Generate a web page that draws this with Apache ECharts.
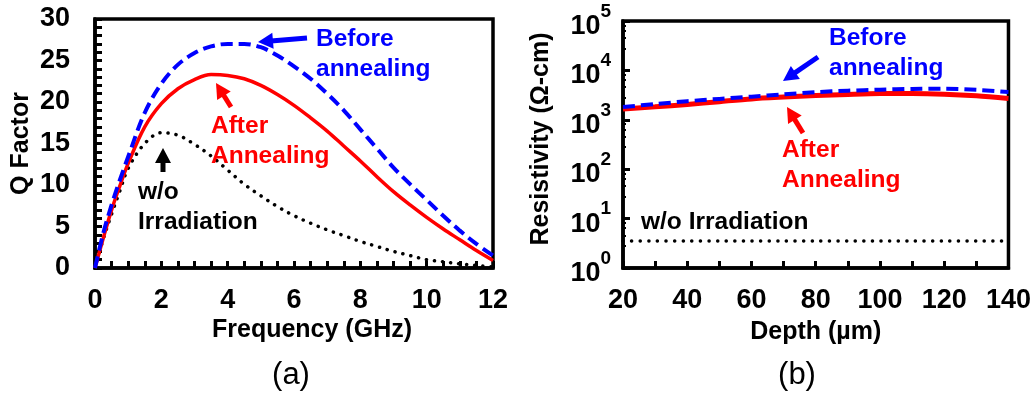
<!DOCTYPE html>
<html>
<head>
<meta charset="utf-8">
<script src="https://cdn.jsdelivr.net/npm/echarts@6/dist/echarts.min.js"></script>
<style>
  html, body { margin: 0; padding: 0; background: #fff; }
  #chart { width: 1034px; height: 393px; }
</style>
</head>
<body>
<div id="chart"></div>
<script>
// (a) Q factor vs frequency
const freq     = [0, 0.25, 0.5, 0.75, 1, 1.5, 2, 2.5, 3, 3.5, 4, 4.5, 5, 5.5, 6, 6.5, 7, 7.5, 8, 8.5, 9, 9.5, 10, 10.5, 11, 11.5, 12];
const qBefore  = [0, 4.2, 7.6, 10.6, 13.4, 18.7, 22.2, 24.5, 25.9, 26.7, 27.0, 27.0, 26.6, 25.6, 24.3, 22.8, 21.0, 19.0, 16.7, 14.4, 12.1, 10.1, 8.2, 6.3, 4.5, 2.9, 1.5];
const qAfter   = [0, 3.6, 7.0, 9.9, 12.6, 17.0, 19.8, 21.6, 22.7, 23.3, 23.2, 22.8, 22.0, 20.9, 19.6, 18.1, 16.5, 14.7, 12.9, 11.0, 9.2, 7.6, 6.1, 4.7, 3.4, 2.1, 0.9];
const qNoIrr   = [0, 3.5, 6.5, 9.3, 12.0, 15.0, 16.3, 16.0, 14.9, 13.5, 11.8, 10.1, 8.7, 7.4, 6.3, 5.4, 4.6, 3.9, 3.2, 2.6, 2.0, 1.5, 1.0, 0.75, 0.5, 0.3, 0.12];

// (b) Resistivity vs depth
const depth     = [20, 30, 40, 50, 60, 70, 80, 90, 100, 110, 120, 130, 140];
const rhoBefore = [1820, 2080, 2380, 2650, 2940, 3280, 3630, 3880, 4070, 4220, 4270, 4050, 3650];
const rhoAfter  = [1650, 1830, 2040, 2330, 2650, 2880, 3090, 3260, 3390, 3400, 3300, 3060, 2710];
const rhoNoIrr  = [3.5, 3.5, 3.5, 3.5, 3.5, 3.5, 3.5, 3.5, 3.5, 3.5, 3.5, 3.5, 3.5];

const FONT = 'Liberation Sans, Arial, Helvetica, sans-serif';
const BLUE = '#0000ff';
const RED = '#ff0000';
const BLACK = '#000000';

const pairs = (xs, ys) => xs.map((x, i) => [x, ys[i]]);

function arrow(x1, y1, x2, y2, color) {
  const dx = x2 - x1, dy = y2 - y1;
  const len = Math.hypot(dx, dy);
  const ux = dx / len, uy = dy / len;
  const headLen = 15, hw = 8;
  const bx = x2 - ux * headLen, by = y2 - uy * headLen;
  const nx = -uy, ny = ux;
  return [
    { type: 'line', silent: true, z: 50,
      shape: { x1: x1, y1: y1, x2: bx + ux * 2, y2: by + uy * 2 },
      style: { stroke: color, lineWidth: 5 } },
    { type: 'polygon', silent: true, z: 50,
      shape: { points: [[x2, y2], [bx + nx * hw, by + ny * hw], [bx - nx * hw, by - ny * hw]] },
      style: { fill: color } }
  ];
}

function note(x, y, text, color) {
  return { type: 'text', silent: true, z: 50, x: x, y: y,
    style: { text: text, fill: color, font: 'bold 24.5px ' + FONT,
      textAlign: 'left', textVerticalAlign: 'middle' } };
}

const tickStyle = { show: true, inside: true, length: 7, lineStyle: { color: BLACK, width: 3 } };
const minorStyle = { show: true, length: 7, lineStyle: { color: BLACK, width: 3 } };
const axisLineStyle = { show: true, lineStyle: { color: BLACK, width: 3.5 } };
const labelStyle = { color: BLACK, fontSize: 27, fontWeight: 'bold', fontFamily: FONT };
const nameStyle = { color: BLACK, fontSize: 25, fontWeight: 'bold', fontFamily: FONT };

const chart = echarts.init(document.getElementById('chart'), null, { renderer: 'canvas' });

chart.setOption({
  backgroundColor: '#ffffff',
  animation: false,
  grid: [
    { left: 95, top: 19, width: 398, height: 249, show: true, borderColor: BLACK, borderWidth: 3.5, backgroundColor: 'transparent' },
    { left: 623, top: 21, width: 387, height: 247, show: true, borderColor: BLACK, borderWidth: 3.5, backgroundColor: 'transparent' }
  ],
  xAxis: [
    { gridIndex: 0, type: 'value', min: 0, max: 12, interval: 2,
      name: 'Frequency (GHz)', nameLocation: 'middle', nameGap: 50, nameMoveOverlap: false,
      nameTextStyle: Object.assign({ padding: [0, 0, 0, 36] }, nameStyle),
      axisLine: axisLineStyle, axisTick: tickStyle, minorTick: Object.assign({ splitNumber: 4 }, minorStyle),
      axisLabel: Object.assign({ margin: 19, showMinLabel: true, showMaxLabel: true }, labelStyle),
      splitLine: { show: false } },
    { gridIndex: 1, type: 'value', min: 20, max: 140, interval: 20,
      name: 'Depth (µm)', nameLocation: 'middle', nameGap: 52, nameMoveOverlap: false,
      nameTextStyle: nameStyle,
      axisLine: axisLineStyle, axisTick: tickStyle, minorTick: Object.assign({ splitNumber: 2 }, minorStyle),
      axisLabel: Object.assign({ margin: 19, showMinLabel: true, showMaxLabel: true }, labelStyle),
      splitLine: { show: false } }
  ],
  yAxis: [
    { gridIndex: 0, type: 'value', min: 0, max: 30, interval: 5,
      name: 'Q Factor', nameLocation: 'middle', nameGap: 61, nameMoveOverlap: false,
      nameTextStyle: nameStyle,
      axisLine: axisLineStyle, axisTick: tickStyle,
      minorTick: Object.assign({ splitNumber: 5 }, minorStyle),
      axisLabel: Object.assign({ margin: 25, showMinLabel: true, showMaxLabel: true }, labelStyle),
      splitLine: { show: false } },
    { gridIndex: 1, type: 'log', logBase: 10, min: 1, max: 100000,
      name: 'Resistivity (Ω-cm)', nameLocation: 'middle', nameGap: 69, nameMoveOverlap: false,
      nameTextStyle: Object.assign({ padding: [0, 0, 0, 11] }, nameStyle),
      axisLine: axisLineStyle, axisTick: tickStyle,
      minorTick: { show: true, splitNumber: 5, length: 3, lineStyle: { color: BLACK, width: 2 } },
      axisLabel: {
        margin: 12, showMinLabel: true, showMaxLabel: true,
        formatter: function (v) { return '{b|10}{s|' + Math.round(Math.log10(v)) + '}'; },
        rich: {
          b: { color: BLACK, fontSize: 27, fontWeight: 'bold', fontFamily: FONT, lineHeight: 38, verticalAlign: 'bottom' },
          s: { color: BLACK, fontSize: 19, fontWeight: 'bold', fontFamily: FONT, lineHeight: 19, verticalAlign: 'top' }
        }
      },
      splitLine: { show: false } }
  ],
  series: [
    { name: 'w/o Irradiation', type: 'line', xAxisIndex: 0, yAxisIndex: 0, data: pairs(freq, qNoIrr),
      smooth: 0.35, showSymbol: false, z: 3,
      lineStyle: { color: BLACK, width: 3.5, type: [0.1, 8], cap: 'round' } },
    { name: 'After Annealing', type: 'line', xAxisIndex: 0, yAxisIndex: 0, data: pairs(freq, qAfter),
      smooth: 0.35, showSymbol: false, z: 4,
      lineStyle: { color: RED, width: 3.5 } },
    { name: 'Before annealing', type: 'line', xAxisIndex: 0, yAxisIndex: 0, data: pairs(freq, qBefore),
      smooth: 0.35, showSymbol: false, z: 5,
      lineStyle: { color: BLUE, width: 4, type: [12, 6] } },

    { name: 'w/o Irradiation', type: 'line', xAxisIndex: 1, yAxisIndex: 1, data: pairs(depth, rhoNoIrr),
      smooth: 0.3, showSymbol: false, z: 3,
      lineStyle: { color: BLACK, width: 3.5, type: [0.1, 8.5], cap: 'round' } },
    { name: 'After Annealing', type: 'line', xAxisIndex: 1, yAxisIndex: 1, data: pairs(depth, rhoAfter),
      smooth: 0.3, showSymbol: false, z: 4,
      lineStyle: { color: RED, width: 5 } },
    { name: 'Before annealing', type: 'line', xAxisIndex: 1, yAxisIndex: 1, data: pairs(depth, rhoBefore),
      smooth: 0.3, showSymbol: false, z: 5,
      lineStyle: { color: BLUE, width: 4, type: [12, 6] } }
  ],
  graphic: [].concat(
    // panel (a) annotations
    note(316, 39, 'Before', BLUE), note(316, 69, 'annealing', BLUE),
    arrow(307, 38, 258, 42, BLUE),
    note(211, 126, 'After', RED), note(211, 156, 'Annealing', RED),
    arrow(231, 107, 216, 83, RED),
    note(138, 192, 'w/o', BLACK), note(138, 222, 'Irradiation', BLACK),
    arrow(163, 172, 163, 148, BLACK),
    // panel (b) annotations
    note(829, 38, 'Before', BLUE), note(829, 68, 'annealing', BLUE),
    arrow(818, 57, 783, 81, BLUE),
    note(782, 150, 'After', RED), note(782, 180, 'Annealing', RED),
    arrow(803, 133, 787, 107, RED),
    note(641, 222, 'w/o Irradiation', BLACK),
    // captions
    { type: 'text', silent: true, x: 291, y: 375,
      style: { text: '(a)', fill: BLACK, font: 'normal 31px ' + FONT, textAlign: 'center', textVerticalAlign: 'middle' } },
    { type: 'text', silent: true, x: 797, y: 375,
      style: { text: '(b)', fill: BLACK, font: 'normal 31px ' + FONT, textAlign: 'center', textVerticalAlign: 'middle' } }
  )
});
</script>
</body>
</html>
